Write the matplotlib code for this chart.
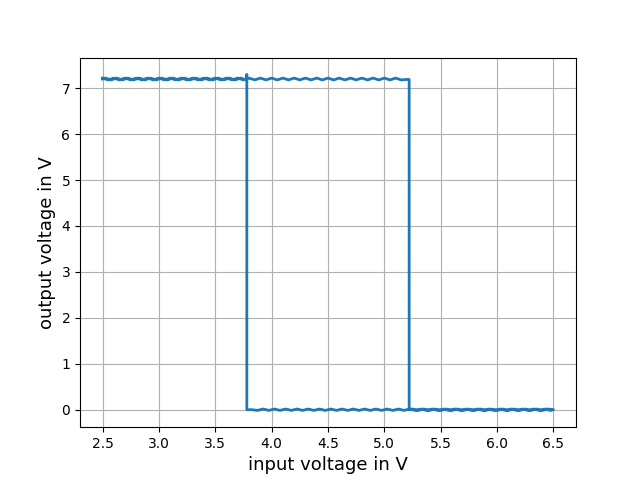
import matplotlib
matplotlib.use('Agg')
import matplotlib.pyplot as plt

# sweep up: input rising from 2.5 V to 6.5 V
vin_up = [2.50, 2.55, 2.60, 2.65, 2.70, 2.75, 2.80, 2.85, 2.90, 2.95,
          3.00, 3.05, 3.10, 3.15, 3.20, 3.25, 3.30, 3.35, 3.40, 3.45,
          3.50, 3.55, 3.60, 3.65, 3.70, 3.75, 3.80, 3.85, 3.90, 3.95,
          4.00, 4.05, 4.10, 4.15, 4.20, 4.25, 4.30, 4.35, 4.40, 4.45,
          4.50, 4.55, 4.60, 4.65, 4.70, 4.75, 4.80, 4.85, 4.90, 4.95,
          5.00, 5.05, 5.10, 5.15, 5.20,
          5.22, 5.22,
          5.25, 5.30, 5.35, 5.40, 5.45, 5.50, 5.55, 5.60, 5.65, 5.70,
          5.75, 5.80, 5.85, 5.90, 5.95, 6.00, 6.05, 6.10, 6.15, 6.20,
          6.25, 6.30, 6.35, 6.40, 6.45, 6.50]
vout_up = [7.22, 7.18, 7.22, 7.18, 7.22, 7.18, 7.22, 7.18, 7.22, 7.18,
           7.22, 7.18, 7.22, 7.18, 7.22, 7.18, 7.22, 7.18, 7.22, 7.18,
           7.22, 7.18, 7.22, 7.18, 7.22, 7.18, 7.22, 7.18, 7.22, 7.18,
           7.22, 7.18, 7.22, 7.18, 7.22, 7.18, 7.22, 7.18, 7.22, 7.18,
           7.22, 7.18, 7.22, 7.18, 7.22, 7.18, 7.22, 7.18, 7.22, 7.18,
           7.22, 7.18, 7.22, 7.18, 7.19,
           7.19, 0.0,
           0.015, -0.015, 0.015, -0.015, 0.015, -0.015, 0.015, -0.015, 0.015, -0.015,
           0.015, -0.015, 0.015, -0.015, 0.015, -0.015, 0.015, -0.015, 0.015, -0.015,
           0.015, -0.015, 0.015, -0.015, 0.015, 0.0]

# sweep down: input falling from 6.5 V to 2.5 V
vin_down = [6.500, 6.475, 6.425, 6.375, 6.325, 6.275, 6.225, 6.175, 6.125, 6.075,
            6.025, 5.975, 5.925, 5.875, 5.825, 5.775, 5.725, 5.675, 5.625, 5.575,
            5.525, 5.475, 5.425, 5.375, 5.325, 5.275, 5.225, 5.175, 5.125, 5.075,
            5.025, 4.975, 4.925, 4.875, 4.825, 4.775, 4.725, 4.675, 4.625, 4.575,
            4.525, 4.475, 4.425, 4.375, 4.325, 4.275, 4.225, 4.175, 4.125, 4.075,
            4.025, 3.975, 3.925, 3.875, 3.825,
            3.78, 3.78,
            3.775, 3.725, 3.675, 3.625, 3.575, 3.525, 3.475, 3.425, 3.375, 3.325,
            3.275, 3.225, 3.175, 3.125, 3.075, 3.025, 2.975, 2.925, 2.875, 2.825,
            2.775, 2.725, 2.675, 2.625, 2.575, 2.525, 2.500]
vout_down = [0.0, -0.015, 0.015, -0.015, 0.015, -0.015, 0.015, -0.015, 0.015, -0.015,
             0.015, -0.015, 0.015, -0.015, 0.015, -0.015, 0.015, -0.015, 0.015, -0.015,
             0.015, -0.015, 0.015, -0.015, 0.015, -0.015, 0.015, -0.015, 0.015, -0.015,
             0.015, -0.015, 0.015, -0.015, 0.015, -0.015, 0.015, -0.015, 0.015, -0.015,
             0.015, -0.015, 0.015, -0.015, 0.015, -0.015, 0.015, -0.015, 0.015, -0.015,
             0.015, -0.015, 0.015, -0.015, 0.0,
             0.0, 7.30,
             7.18, 7.22, 7.18, 7.22, 7.18, 7.22, 7.18, 7.22, 7.18, 7.22,
             7.18, 7.22, 7.18, 7.22, 7.18, 7.22, 7.18, 7.22, 7.18, 7.22,
             7.18, 7.22, 7.18, 7.22, 7.18, 7.22, 7.20]

vin = vin_up + vin_down
vout = vout_up + vout_down

fig = plt.figure(figsize=(6.4, 4.8), dpi=100)
plt.plot(vin, vout, color='#1f77b4', linewidth=2)
plt.xlabel('input voltage in V', fontsize=13)
plt.ylabel('output voltage in V', fontsize=13)
plt.xticks([2.5, 3.0, 3.5, 4.0, 4.5, 5.0, 5.5, 6.0, 6.5])
plt.grid(True)
plt.savefig('out.png')
